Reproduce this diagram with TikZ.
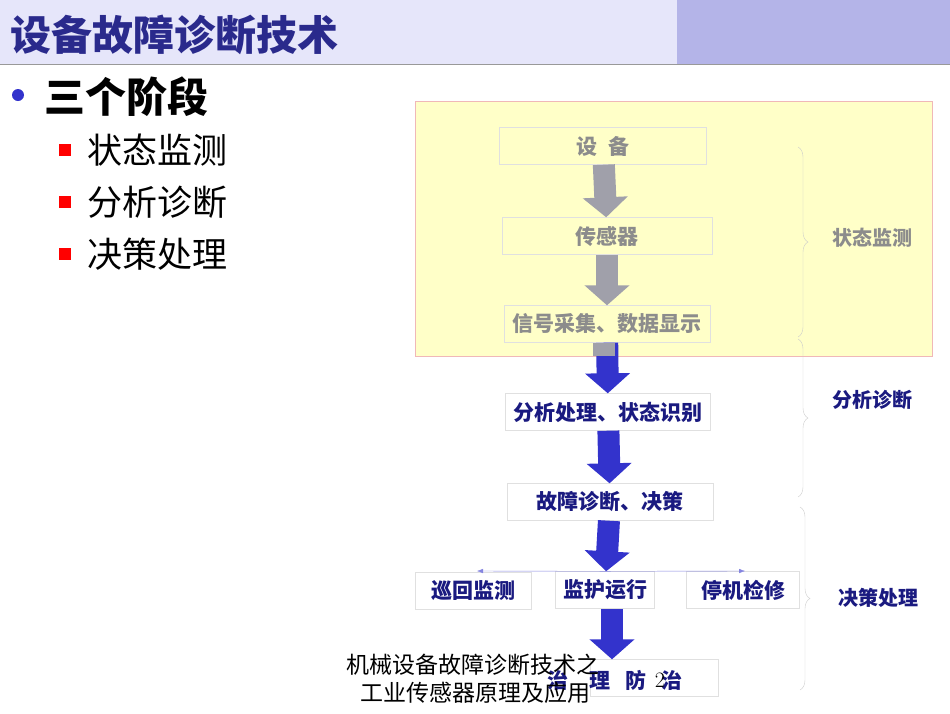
\documentclass[tikz,border=0pt]{standalone}
\usepackage{fontspec}
\newfontfamily\cjk{Noto Sans CJK SC}
\usetikzlibrary{arrows.meta,positioning,decorations.pathreplacing}
\definecolor{titlebg}{HTML}{E6E6FA}
\definecolor{titledk}{HTML}{B4B4E8}
\definecolor{titlefg}{HTML}{2A2A8C}
\definecolor{stagebg}{HTML}{FFFFC8}
\definecolor{stageln}{HTML}{F0B8B8}
\definecolor{greytx}{HTML}{8C8C8C}
\definecolor{greyar}{HTML}{A0A0AA}
\definecolor{bluear}{HTML}{3333CC}
\definecolor{bluetx}{HTML}{1A1A80}
\tikzset{
  box/.style={draw=black!12,minimum height=37pt,inner sep=0pt,font=\cjk\fontsize{21}{21}\selectfont\bfseries,text=bluetx},
  greybox/.style={box,text=greytx},
  fat/.style={line width=22pt,-{Triangle[width=44pt,length=20pt]}},
  brc/.style={draw=black!20,decorate,decoration={brace,amplitude=10pt}},
  phase/.style={font=\cjk\fontsize{20}{20}\selectfont\bfseries,text=bluetx}
}
\begin{document}
\begin{tikzpicture}[x=1pt,y=-1pt]
\useasboundingbox (0,0) rectangle (950,713);
% Title bar
\fill[titlebg] (0,0) rectangle (677,64);
\fill[titledk] (677,0) rectangle (950,64);
\draw[black!40] (0,64) -- (950,64);
\node[anchor=west,text=titlefg,font=\cjk\fontsize{41}{41}\selectfont\bfseries] (title) at (7,35) {设备故障诊断技术};

% Bullets
\fill[bluear] (18,95) circle (6);
\node[anchor=west,font=\cjk\fontsize{41}{41}\selectfont\bfseries] (stages) at (41,97) {三个阶段};
\foreach \y/\t in {150/状态监测,202/分析诊断,254/决策处理}{
  \fill[red] (65,\y) +(-6,-6) rectangle +(6,6);
  \node[anchor=west,font=\cjk\fontsize{35}{35}\selectfont] at (84,\y) {\t};
}

% Yellow panel
\draw[stageln,fill=stagebg] (415,101) rectangle (932,356);

% Boxes
\node[greybox,minimum width=207pt] (dev) at (603,146) {设\,\,\,备};
\node[greybox,minimum width=210pt] (sens) at (607,236) {传感器};
\node[greybox,minimum width=206pt] (sig) at (607,324) {信号采集、数据显示};
\node[box,minimum width=205pt] (ana) at (608,412) {分析处理、状态识别};
\node[box,minimum width=206pt] (diag) at (610,502) {故障诊断、决策};
\node[box,minimum width=116pt] (patrol) at (473,591) {巡回监测};
\node[box,minimum width=99pt] (guard) at (605,590) {监护运行};
\node[box,minimum width=113pt] (stop) at (743,590) {停机检修};
\node[box,minimum width=128pt] (cure) at (654,678) {};
\node[font=\cjk\fontsize{21}{21}\selectfont\bfseries,text=bluetx] (curetx) at (615,680) {治\quad 理\,\,\, 防\,\,\, 治};

% Block arrows
\draw[fat,greyar] (dev) -- (sens);
\draw[fat,greyar] (sens) -- (sig);
\draw[fat,bluear] (sig) -- (ana);
\fill[greyar] (593,343) rectangle (615,356);
\draw[fat,bluear] (ana) -- (diag);
\draw[fat,bluear] (diag) -- (guard);
\coordinate (gs) at (612,609);
\draw[fat,bluear] (gs) -- (gs |- cure.north);
\coordinate (lt) at (477,571);
\coordinate (rt) at (745,571);
\draw[bluear!60,-{Latex[length=6pt]}] (guard.north) -- (lt);
\draw[bluear!60,-{Latex[length=6pt]}] (guard.north) -- (rt);

% Braces
\coordinate (b1) at (798,147); \coordinate (b2) at (798,337);
\coordinate (b3) at (798,339); \coordinate (b4) at (798,497);
\coordinate (b5) at (800,507); \coordinate (b6) at (800,690);
\draw[brc] (b1) -- (b2);
\draw[brc] (b3) -- (b4);
\draw[brc] (b5) -- (b6);
\node[phase,text=greytx] (mon) at (872,238) {状态监测};
\node[phase] (an) at (872,400) {分析诊断};
\node[phase] (dec) at (878,598) {决策处理};

% Footer
\node[font=\cjk\fontsize{23}{23}\selectfont] (foot1) at (473,665) {机械设备故障诊断技术之};
\node[font=\cjk\fontsize{23}{23}\selectfont] (foot2) at (475,693) {工业传感器原理及应用};
\node[font=\fontsize{22}{22}\selectfont] (pg) at (660,680) {2};
\end{tikzpicture}
\end{document}
